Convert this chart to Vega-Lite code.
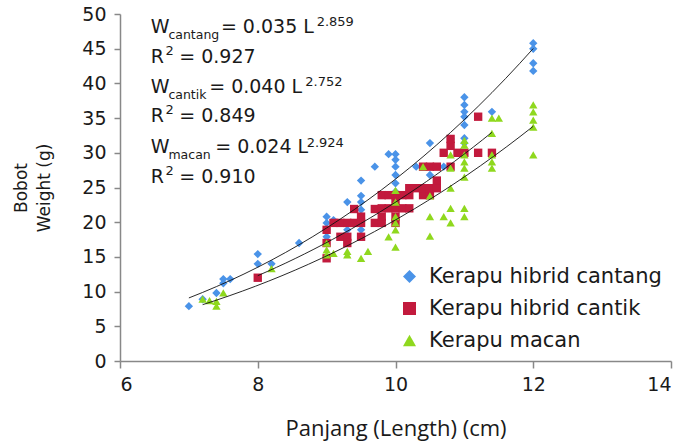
{
  "$schema": "https://vega.github.io/schema/vega-lite/v6.json",
  "width": 551,
  "height": 347,
  "autosize": "none",
  "padding": {"left": 120, "top": 14, "right": 13, "bottom": 83},
  "background": "white",
  "config": {"view": {"stroke": null}, "font": "DejaVu Sans"},
  "datasets": {
    "pts": [
      {"s": "Kerapu hibrid cantang", "L": 7.0, "W": 7.9},
      {"s": "Kerapu hibrid cantang", "L": 7.2, "W": 8.9},
      {"s": "Kerapu hibrid cantang", "L": 7.4, "W": 9.8},
      {"s": "Kerapu hibrid cantang", "L": 7.5, "W": 11.2},
      {"s": "Kerapu hibrid cantang", "L": 7.5, "W": 11.8},
      {"s": "Kerapu hibrid cantang", "L": 7.6, "W": 11.8},
      {"s": "Kerapu hibrid cantang", "L": 8.0, "W": 15.4},
      {"s": "Kerapu hibrid cantang", "L": 8.0, "W": 14.0},
      {"s": "Kerapu hibrid cantang", "L": 8.2, "W": 14.0},
      {"s": "Kerapu hibrid cantang", "L": 8.6, "W": 17.0},
      {"s": "Kerapu hibrid cantang", "L": 9.0, "W": 20.8},
      {"s": "Kerapu hibrid cantang", "L": 9.0, "W": 19.9},
      {"s": "Kerapu hibrid cantang", "L": 9.0, "W": 18.9},
      {"s": "Kerapu hibrid cantang", "L": 9.0, "W": 17.9},
      {"s": "Kerapu hibrid cantang", "L": 9.1, "W": 20.3},
      {"s": "Kerapu hibrid cantang", "L": 9.3, "W": 22.9},
      {"s": "Kerapu hibrid cantang", "L": 9.3, "W": 18.9},
      {"s": "Kerapu hibrid cantang", "L": 9.5, "W": 26.0},
      {"s": "Kerapu hibrid cantang", "L": 9.5, "W": 23.8},
      {"s": "Kerapu hibrid cantang", "L": 9.5, "W": 22.9},
      {"s": "Kerapu hibrid cantang", "L": 9.5, "W": 21.8},
      {"s": "Kerapu hibrid cantang", "L": 9.5, "W": 18.9},
      {"s": "Kerapu hibrid cantang", "L": 9.7, "W": 28.0},
      {"s": "Kerapu hibrid cantang", "L": 9.9, "W": 29.8},
      {"s": "Kerapu hibrid cantang", "L": 10.0, "W": 29.8},
      {"s": "Kerapu hibrid cantang", "L": 10.0, "W": 29.0},
      {"s": "Kerapu hibrid cantang", "L": 10.0, "W": 28.0},
      {"s": "Kerapu hibrid cantang", "L": 10.0, "W": 26.8},
      {"s": "Kerapu hibrid cantang", "L": 10.0, "W": 25.6},
      {"s": "Kerapu hibrid cantang", "L": 10.0, "W": 24.4},
      {"s": "Kerapu hibrid cantang", "L": 10.3, "W": 28.0},
      {"s": "Kerapu hibrid cantang", "L": 10.5, "W": 31.4},
      {"s": "Kerapu hibrid cantang", "L": 10.5, "W": 26.8},
      {"s": "Kerapu hibrid cantang", "L": 10.7, "W": 28.0},
      {"s": "Kerapu hibrid cantang", "L": 10.8, "W": 32.0},
      {"s": "Kerapu hibrid cantang", "L": 11.0, "W": 38.0},
      {"s": "Kerapu hibrid cantang", "L": 11.0, "W": 36.9},
      {"s": "Kerapu hibrid cantang", "L": 11.0, "W": 35.9},
      {"s": "Kerapu hibrid cantang", "L": 11.0, "W": 35.2},
      {"s": "Kerapu hibrid cantang", "L": 11.0, "W": 34.0},
      {"s": "Kerapu hibrid cantang", "L": 11.0, "W": 32.1},
      {"s": "Kerapu hibrid cantang", "L": 11.0, "W": 31.4},
      {"s": "Kerapu hibrid cantang", "L": 11.4, "W": 35.9},
      {"s": "Kerapu hibrid cantang", "L": 12.0, "W": 45.8},
      {"s": "Kerapu hibrid cantang", "L": 12.0, "W": 45.0},
      {"s": "Kerapu hibrid cantang", "L": 12.0, "W": 42.9},
      {"s": "Kerapu hibrid cantang", "L": 12.0, "W": 41.8},
      {"s": "Kerapu hibrid cantik", "L": 8.0, "W": 12.0},
      {"s": "Kerapu hibrid cantik", "L": 9.0, "W": 18.9},
      {"s": "Kerapu hibrid cantik", "L": 9.0, "W": 17.0},
      {"s": "Kerapu hibrid cantik", "L": 9.0, "W": 14.8},
      {"s": "Kerapu hibrid cantik", "L": 9.1, "W": 19.9},
      {"s": "Kerapu hibrid cantik", "L": 9.2, "W": 19.9},
      {"s": "Kerapu hibrid cantik", "L": 9.3, "W": 19.9},
      {"s": "Kerapu hibrid cantik", "L": 9.4, "W": 19.9},
      {"s": "Kerapu hibrid cantik", "L": 9.5, "W": 19.9},
      {"s": "Kerapu hibrid cantik", "L": 9.7, "W": 19.9},
      {"s": "Kerapu hibrid cantik", "L": 9.8, "W": 19.9},
      {"s": "Kerapu hibrid cantik", "L": 9.2, "W": 17.9},
      {"s": "Kerapu hibrid cantik", "L": 9.3, "W": 17.9},
      {"s": "Kerapu hibrid cantik", "L": 9.3, "W": 17.0},
      {"s": "Kerapu hibrid cantik", "L": 9.5, "W": 17.9},
      {"s": "Kerapu hibrid cantik", "L": 9.4, "W": 21.9},
      {"s": "Kerapu hibrid cantik", "L": 9.7, "W": 21.9},
      {"s": "Kerapu hibrid cantik", "L": 9.5, "W": 20.8},
      {"s": "Kerapu hibrid cantik", "L": 9.8, "W": 20.8},
      {"s": "Kerapu hibrid cantik", "L": 9.8, "W": 23.9},
      {"s": "Kerapu hibrid cantik", "L": 9.9, "W": 23.9},
      {"s": "Kerapu hibrid cantik", "L": 9.8, "W": 22.0},
      {"s": "Kerapu hibrid cantik", "L": 9.9, "W": 22.0},
      {"s": "Kerapu hibrid cantik", "L": 10.0, "W": 22.0},
      {"s": "Kerapu hibrid cantik", "L": 10.1, "W": 22.0},
      {"s": "Kerapu hibrid cantik", "L": 10.2, "W": 22.0},
      {"s": "Kerapu hibrid cantik", "L": 10.0, "W": 22.9},
      {"s": "Kerapu hibrid cantik", "L": 10.0, "W": 20.8},
      {"s": "Kerapu hibrid cantik", "L": 10.0, "W": 19.9},
      {"s": "Kerapu hibrid cantik", "L": 10.0, "W": 23.9},
      {"s": "Kerapu hibrid cantik", "L": 10.1, "W": 23.9},
      {"s": "Kerapu hibrid cantik", "L": 10.2, "W": 23.9},
      {"s": "Kerapu hibrid cantik", "L": 10.4, "W": 23.9},
      {"s": "Kerapu hibrid cantik", "L": 10.5, "W": 23.9},
      {"s": "Kerapu hibrid cantik", "L": 10.2, "W": 24.9},
      {"s": "Kerapu hibrid cantik", "L": 10.3, "W": 24.9},
      {"s": "Kerapu hibrid cantik", "L": 10.4, "W": 24.9},
      {"s": "Kerapu hibrid cantik", "L": 10.5, "W": 24.9},
      {"s": "Kerapu hibrid cantik", "L": 10.6, "W": 24.9},
      {"s": "Kerapu hibrid cantik", "L": 10.6, "W": 26.0},
      {"s": "Kerapu hibrid cantik", "L": 10.4, "W": 28.0},
      {"s": "Kerapu hibrid cantik", "L": 10.5, "W": 28.0},
      {"s": "Kerapu hibrid cantik", "L": 10.6, "W": 28.0},
      {"s": "Kerapu hibrid cantik", "L": 10.8, "W": 28.0},
      {"s": "Kerapu hibrid cantik", "L": 10.7, "W": 30.0},
      {"s": "Kerapu hibrid cantik", "L": 10.9, "W": 30.0},
      {"s": "Kerapu hibrid cantik", "L": 11.0, "W": 30.0},
      {"s": "Kerapu hibrid cantik", "L": 11.2, "W": 30.0},
      {"s": "Kerapu hibrid cantik", "L": 11.4, "W": 30.0},
      {"s": "Kerapu hibrid cantik", "L": 10.8, "W": 31.0},
      {"s": "Kerapu hibrid cantik", "L": 10.8, "W": 32.0},
      {"s": "Kerapu hibrid cantik", "L": 11.2, "W": 35.2},
      {"s": "Kerapu macan", "L": 7.2, "W": 8.9},
      {"s": "Kerapu macan", "L": 7.3, "W": 8.7},
      {"s": "Kerapu macan", "L": 7.4, "W": 8.6},
      {"s": "Kerapu macan", "L": 7.4, "W": 7.9},
      {"s": "Kerapu macan", "L": 7.5, "W": 9.8},
      {"s": "Kerapu macan", "L": 8.2, "W": 13.3},
      {"s": "Kerapu macan", "L": 9.0, "W": 17.0},
      {"s": "Kerapu macan", "L": 9.0, "W": 16.0},
      {"s": "Kerapu macan", "L": 9.0, "W": 15.3},
      {"s": "Kerapu macan", "L": 9.1, "W": 15.5},
      {"s": "Kerapu macan", "L": 9.3, "W": 15.8},
      {"s": "Kerapu macan", "L": 9.3, "W": 15.3},
      {"s": "Kerapu macan", "L": 9.5, "W": 14.8},
      {"s": "Kerapu macan", "L": 9.6, "W": 15.8},
      {"s": "Kerapu macan", "L": 9.9, "W": 17.9},
      {"s": "Kerapu macan", "L": 10.0, "W": 16.4},
      {"s": "Kerapu macan", "L": 10.0, "W": 18.9},
      {"s": "Kerapu macan", "L": 10.0, "W": 19.9},
      {"s": "Kerapu macan", "L": 10.0, "W": 20.8},
      {"s": "Kerapu macan", "L": 10.0, "W": 22.9},
      {"s": "Kerapu macan", "L": 10.0, "W": 24.6},
      {"s": "Kerapu macan", "L": 10.4, "W": 28.0},
      {"s": "Kerapu macan", "L": 10.5, "W": 23.8},
      {"s": "Kerapu macan", "L": 10.5, "W": 20.8},
      {"s": "Kerapu macan", "L": 10.5, "W": 18.0},
      {"s": "Kerapu macan", "L": 10.7, "W": 20.8},
      {"s": "Kerapu macan", "L": 10.8, "W": 22.0},
      {"s": "Kerapu macan", "L": 10.8, "W": 19.9},
      {"s": "Kerapu macan", "L": 10.8, "W": 24.9},
      {"s": "Kerapu macan", "L": 10.8, "W": 27.8},
      {"s": "Kerapu macan", "L": 10.8, "W": 29.7},
      {"s": "Kerapu macan", "L": 11.0, "W": 31.8},
      {"s": "Kerapu macan", "L": 11.0, "W": 31.1},
      {"s": "Kerapu macan", "L": 11.0, "W": 29.7},
      {"s": "Kerapu macan", "L": 11.0, "W": 28.7},
      {"s": "Kerapu macan", "L": 11.0, "W": 27.8},
      {"s": "Kerapu macan", "L": 11.0, "W": 26.5},
      {"s": "Kerapu macan", "L": 11.0, "W": 22.0},
      {"s": "Kerapu macan", "L": 11.0, "W": 20.8},
      {"s": "Kerapu macan", "L": 11.4, "W": 35.0},
      {"s": "Kerapu macan", "L": 11.5, "W": 35.0},
      {"s": "Kerapu macan", "L": 11.4, "W": 32.8},
      {"s": "Kerapu macan", "L": 11.4, "W": 29.7},
      {"s": "Kerapu macan", "L": 11.4, "W": 28.7},
      {"s": "Kerapu macan", "L": 11.4, "W": 27.8},
      {"s": "Kerapu macan", "L": 12.0, "W": 36.9},
      {"s": "Kerapu macan", "L": 12.0, "W": 35.9},
      {"s": "Kerapu macan", "L": 12.0, "W": 34.7},
      {"s": "Kerapu macan", "L": 12.0, "W": 33.7},
      {"s": "Kerapu macan", "L": 12.0, "W": 29.7}
    ],
    "eq": [
      {"r": "m", "L": 6.447, "W": 47.22, "t": "W"},
      {"r": "s", "L": 6.703, "W": 46.33, "t": "cantang"},
      {"r": "m", "L": 7.465, "W": 47.22, "t": "= 0.035 L"},
      {"r": "p", "L": 8.855, "W": 48.27, "t": "2.859"},
      {"r": "m", "L": 6.447, "W": 42.98, "t": "R"},
      {"r": "p", "L": 6.66, "W": 44.09, "t": "2"},
      {"r": "m", "L": 6.86, "W": 42.98, "t": "= 0.927"},
      {"r": "m", "L": 6.447, "W": 38.66, "t": "W"},
      {"r": "s", "L": 6.703, "W": 37.71, "t": "cantik"},
      {"r": "m", "L": 7.295, "W": 38.66, "t": "= 0.040 L"},
      {"r": "p", "L": 8.69, "W": 39.63, "t": "2.752"},
      {"r": "m", "L": 6.447, "W": 34.48, "t": "R"},
      {"r": "p", "L": 6.66, "W": 35.63, "t": "2"},
      {"r": "m", "L": 6.86, "W": 34.48, "t": "= 0.849"},
      {"r": "m", "L": 6.447, "W": 29.93, "t": "W"},
      {"r": "s", "L": 6.703, "W": 29.06, "t": "macan"},
      {"r": "m", "L": 7.382, "W": 29.93, "t": "= 0.024 L"},
      {"r": "p", "L": 8.71, "W": 30.79, "t": "2.924"},
      {"r": "m", "L": 6.447, "W": 25.69, "t": "R"},
      {"r": "p", "L": 6.66, "W": 26.84, "t": "2"},
      {"r": "m", "L": 6.86, "W": 25.69, "t": "= 0.910"}
    ]
  },
  "encoding": {
    "x": {
      "field": "L", "type": "quantitative",
      "scale": {"domain": [6, 14], "nice": false, "zero": false},
      "axis": {
        "values": [6, 8, 10, 12, 14], "format": "d", "grid": false, "labelOverlap": false,
        "title": "Panjang (Length) (cm)",
        "titleFont": "Open Sans", "titleFontSize": 22, "titleFontWeight": "normal", "titleColor": "#1a1a1a", "titlePadding": 24,
        "labelFont": "DejaVu Sans", "labelFontSize": 19, "labelColor": "#1a1a1a", "labelPadding": 7,
        "domainColor": "#888888", "domainWidth": 1.5, "tickColor": "#888888", "tickWidth": 1.5, "tickSize": 7
      }
    },
    "y": {
      "field": "W", "type": "quantitative",
      "scale": {"domain": [0, 50], "nice": false},
      "axis": {
        "values": [0, 5, 10, 15, 20, 25, 30, 35, 40, 45, 50], "format": "d", "grid": false, "labelOverlap": false,
        "title": ["Bobot", "Weight (g)"],
        "titleFont": "DejaVu Sans", "titleFontSize": 17, "titleFontWeight": "normal", "titleColor": "#1a1a1a", "titlePadding": 28, "titleLineHeight": 23,
        "labelFont": "DejaVu Sans", "labelFontSize": 19, "labelColor": "#1a1a1a", "labelPadding": 8,
        "domainColor": "#888888", "domainWidth": 1.5, "tickColor": "#888888", "tickWidth": 1.5, "tickSize": 6
      }
    }
  },
  "layer": [
    {
      "data": {"name": "pts"},
      "mark": {"type": "point", "filled": true, "opacity": 1, "size": 70},
      "encoding": {
        "color": {
          "field": "s", "type": "nominal",
          "scale": {"domain": ["Kerapu hibrid cantang", "Kerapu hibrid cantik", "Kerapu macan"], "range": ["#4a93e8", "#c21a3d", "#8fd81e"]},
          "legend": {
            "orient": "none", "legendX": 279, "legendY": 252, "title": null, "padding": 0,
            "labelFont": "DejaVu Sans", "labelFontSize": 21, "labelColor": "#1a1a1a", "labelLimit": 400, "symbolSize": 170, "labelOffset": 9, "rowPadding": 10,
            "symbolStrokeWidth": 0
          }
        },
        "shape": {
          "field": "s", "type": "nominal",
          "scale": {"domain": ["Kerapu hibrid cantang", "Kerapu hibrid cantik", "Kerapu macan"], "range": ["diamond", "square", "triangle-up"]}
        }
      }
    },
    {
      "data": {"name": "pts"},
      "transform": [{"regression": "W", "on": "L", "groupby": ["s"], "method": "pow"}],
      "mark": {"type": "line", "color": "#111111", "strokeWidth": 0.9},
      "encoding": {
        "detail": {"field": "s"}
      }
    },
    {
      "data": {"name": "eq"},
      "transform": [{"filter": "datum.r == 'm'"}],
      "mark": {"type": "text", "align": "left", "baseline": "alphabetic", "fontSize": 19, "font": "DejaVu Sans", "color": "#1a1a1a"},
      "encoding": {
        "text": {"field": "t"}
      }
    },
    {
      "data": {"name": "eq"},
      "transform": [{"filter": "datum.r == 's'"}],
      "mark": {"type": "text", "align": "left", "baseline": "alphabetic", "fontSize": 12.5, "font": "DejaVu Sans", "color": "#1a1a1a"},
      "encoding": {
        "text": {"field": "t"}
      }
    },
    {
      "data": {"name": "eq"},
      "transform": [{"filter": "datum.r == 'p'"}],
      "mark": {"type": "text", "align": "left", "baseline": "alphabetic", "fontSize": 13, "font": "DejaVu Sans", "color": "#1a1a1a"},
      "encoding": {
        "text": {"field": "t"}
      }
    }
  ]
}
